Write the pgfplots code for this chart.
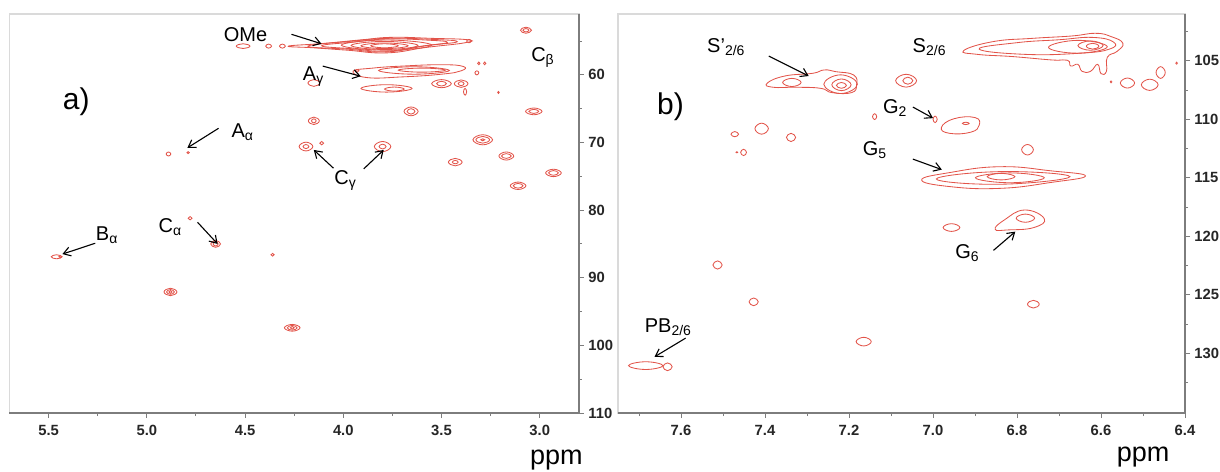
\documentclass[border=0pt]{standalone}
\usepackage{fontspec}
\setmainfont{Liberation Sans}
\usepackage{pgfplots}
\pgfplotsset{compat=1.18}
\usetikzlibrary{arrows.meta}
\definecolor{cont}{RGB}{226,84,74}
\definecolor{axdark}{RGB}{125,125,125}
\definecolor{axlight}{RGB}{218,218,218}
\pgfplotsset{
  nmr/.style={scale only axis, x dir=reverse, y dir=reverse, clip=false,
    axis line style={axlight, line width=0.6pt},
    tick style={axdark, line width=0.5pt}, tick align=outside,
    major tick length=2.5pt, minor tick length=1.5pt,
    xtick pos=bottom, ytick pos=right,
    ticklabel style={font=\bfseries\fontsize{7.4}{8.5}\selectfont, text=black!85},
    yticklabel style={inner xsep=2pt},
    /pgf/number format/assume math mode=true,
    xticklabel style={/pgf/number format/.cd, fixed, fixed zerofill, precision=1},
    yticklabel style={/pgf/number format/.cd, fixed, precision=0},
  },
  ct/.style={cont, line width=0.42pt, smooth cycle, tension=0.8, mark=none},
}
\tikzset{lbl/.style={font=\fontsize{10}{12}\selectfont, inner sep=0pt},
  arr/.style={-{Straight Barb[length=3.5pt,width=4.5pt]}, line width=0.55pt, black}}
\begin{document}
\begin{tikzpicture}
\path[use as bounding box] (0,0) rectangle (610pt,235.5pt);
% ---------------- panel a ----------------
\begin{axis}[nmr, at={(4.7pt,29pt)}, anchor=south west, width=284.8pt, height=199.5pt,
  xmin=2.80, xmax=5.70, ymin=51, ymax=110,
  xtick={3.0,3.5,4.0,4.5,5.0,5.5}, minor xtick={3.25,3.75,4.25,4.75,5.25},
  ytick={60,70,80,90,100,110}, minor ytick={55,65,75,85,95,105}]
\draw[axdark, line width=0.6pt] (axis cs:5.70,110) -- (axis cs:2.80,110) -- (axis cs:2.80,51);
% OMe
\addplot[ct] coordinates {(4.28,55.75) (4.10,55.35) (3.90,54.8) (3.75,54.45) (3.55,54.6) (3.37,54.8) (3.38,55.25) (3.58,55.95) (3.78,56.75) (3.98,56.35) (4.15,56.0)};
\addplot[ct] coordinates {(4.18,55.75) (3.95,55.0) (3.77,54.6) (3.55,54.75) (3.42,55.1) (3.58,55.7) (3.78,56.6) (3.98,56.2)};
\addplot[ct] coordinates {(4.11,55.7) (3.95,55.15) (3.78,54.7) (3.58,54.85) (3.47,55.2) (3.60,55.75) (3.78,56.5) (3.95,56.15)};
\addplot[ct] coordinates {(4.01,55.6) (3.78,54.85) (3.55,55.6) (3.78,56.35)};
\addplot[ct] coordinates {(3.96,55.65) (3.79,55.05) (3.62,55.65) (3.79,56.25)};
\addplot[ct] coordinates {(3.91,55.7) (3.79,55.28) (3.67,55.7) (3.79,56.12)};
\addplot[ct] coordinates {(3.86,55.7) (3.79,55.4) (3.72,55.7) (3.79,56.0)};
\addplot[ct] coordinates {(4.545,55.75) (4.51,55.4) (4.475,55.75) (4.51,56.1)};
\addplot[ct] coordinates {(4.395,55.75) (4.38,55.45) (4.365,55.75) (4.38,56.05)};
\addplot[ct] coordinates {(4.325,55.75) (4.31,55.45) (4.295,55.75) (4.31,56.05)};
\addplot[ct] coordinates {(3.372,55.0) (3.36,54.75) (3.348,55.0) (3.36,55.25)};
\addplot[ct] coordinates {(3.098,53.4) (3.07,52.95) (3.042,53.4) (3.07,53.85)};
\addplot[ct] coordinates {(3.085,53.4) (3.07,53.15) (3.055,53.4) (3.07,53.65)};
% A gamma
\addplot[ct] coordinates {(3.95,59.45) (3.85,59.0) (3.70,58.7) (3.50,58.5) (3.39,58.75) (3.40,59.4) (3.50,59.9) (3.70,60.3) (3.88,60.4)};
\addplot[ct] coordinates {(3.82,59.35) (3.64,58.8) (3.46,59.35) (3.64,59.9)};
\addplot[ct] coordinates {(3.72,59.3) (3.60,59.0) (3.48,59.3) (3.60,59.6)};
\addplot[ct] coordinates {(3.94,59.4) (3.93,59.2) (3.92,59.4) (3.93,59.6)};
\addplot[ct] coordinates {(4.18,61.2) (4.15,60.7) (4.12,61.2) (4.15,61.7)};
\addplot[ct] coordinates {(3.91,62.0) (3.78,61.45) (3.65,62.0) (3.78,62.55)};
\addplot[ct] coordinates {(3.79,62.1) (3.74,61.8) (3.69,62.1) (3.74,62.4)};
\addplot[ct] coordinates {(3.55,61.3) (3.50,60.7) (3.45,61.3) (3.50,61.9)};
\addplot[ct] coordinates {(3.435,61.3) (3.40,60.75) (3.365,61.3) (3.40,61.85)};
\addplot[ct] coordinates {(3.525,61.3) (3.50,60.95) (3.475,61.3) (3.50,61.65)};
\addplot[ct] coordinates {(3.415,61.3) (3.40,61.0) (3.385,61.3) (3.40,61.6)};
\addplot[ct] coordinates {(3.388,62.5) (3.38,62.0) (3.372,62.5) (3.38,63.0)};
\addplot[ct] coordinates {(3.316,58.3) (3.31,58.1) (3.304,58.3) (3.31,58.5)};
\addplot[ct] coordinates {(3.286,58.3) (3.28,58.1) (3.274,58.3) (3.28,58.5)};
\addplot[ct] coordinates {(3.33,59.7) (3.32,59.4) (3.31,59.7) (3.32,60.0)};
\addplot[ct] coordinates {(3.214,62.6) (3.21,62.45) (3.206,62.6) (3.21,62.75)};
% isolated peaks
\addplot[ct] coordinates {(3.691,65.4) (3.655,64.75) (3.619,65.4) (3.655,66.05)};
\addplot[ct] coordinates {(3.675,65.4) (3.655,65.0) (3.635,65.4) (3.655,65.8)};
\addplot[ct] coordinates {(4.178,66.8) (4.15,66.25) (4.122,66.8) (4.15,67.35)};
\addplot[ct] coordinates {(4.162,66.8) (4.15,66.5) (4.138,66.8) (4.15,67.1)};
\addplot[ct] coordinates {(3.072,65.4) (3.03,64.9) (2.988,65.4) (3.03,65.9)};
\addplot[ct] coordinates {(3.055,65.4) (3.03,65.1) (3.005,65.4) (3.03,65.7)};
\addplot[ct] coordinates {(3.34,69.6) (3.29,68.85) (3.24,69.6) (3.29,70.35)};
\addplot[ct] coordinates {(3.325,69.6) (3.29,69.1) (3.255,69.6) (3.29,70.1)};
\addplot[ct] coordinates {(3.30,69.6) (3.29,69.45) (3.28,69.6) (3.29,69.75)};
\addplot[ct] coordinates {(4.225,70.6) (4.19,69.95) (4.155,70.6) (4.19,71.25)};
\addplot[ct] coordinates {(4.205,70.6) (4.19,70.3) (4.175,70.6) (4.19,70.9)};
\addplot[ct] coordinates {(4.12,70.1) (4.11,69.85) (4.10,70.1) (4.11,70.35)};
\addplot[ct] coordinates {(3.842,70.6) (3.80,69.85) (3.758,70.6) (3.80,71.35)};
\addplot[ct] coordinates {(3.818,70.6) (3.80,70.25) (3.782,70.6) (3.80,70.95)};
\addplot[ct] coordinates {(3.208,72.0) (3.17,71.4) (3.132,72.0) (3.17,72.6)};
\addplot[ct] coordinates {(3.195,72.0) (3.17,71.65) (3.145,72.0) (3.17,72.35)};
\addplot[ct] coordinates {(3.465,72.9) (3.43,72.35) (3.395,72.9) (3.43,73.45)};
\addplot[ct] coordinates {(3.445,72.9) (3.43,72.65) (3.415,72.9) (3.43,73.15)};
\addplot[ct] coordinates {(2.97,74.5) (2.93,73.95) (2.89,74.5) (2.93,75.05)};
\addplot[ct] coordinates {(2.955,74.5) (2.93,74.15) (2.905,74.5) (2.93,74.85)};
\addplot[ct] coordinates {(3.15,76.4) (3.11,75.85) (3.07,76.4) (3.11,76.95)};
\addplot[ct] coordinates {(3.135,76.4) (3.11,76.05) (3.085,76.4) (3.11,76.75)};
\addplot[ct] coordinates {(4.902,71.7) (4.89,71.4) (4.878,71.7) (4.89,72.0)};
\addplot[ct] coordinates {(4.796,71.5) (4.79,71.35) (4.784,71.5) (4.79,71.65)};
\addplot[ct] coordinates {(4.79,81.2) (4.78,80.95) (4.77,81.2) (4.78,81.45)};
\addplot[ct] coordinates {(4.675,85.0) (4.65,84.5) (4.625,85.0) (4.65,85.5)};
\addplot[ct] coordinates {(4.663,85.0) (4.65,84.7) (4.637,85.0) (4.65,85.3)};
\addplot[ct] coordinates {(4.368,86.6) (4.36,86.4) (4.352,86.6) (4.36,86.8)};
\addplot[ct] coordinates {(5.487,86.9) (5.46,86.6) (5.433,86.9) (5.46,87.2)};
\addplot[ct] coordinates {(5.448,86.9) (5.44,86.75) (5.432,86.9) (5.44,87.05)};
\addplot[ct] coordinates {(4.913,92.1) (4.88,91.55) (4.847,92.1) (4.88,92.65)};
\addplot[ct] coordinates {(4.90,92.1) (4.88,91.75) (4.86,92.1) (4.88,92.45)};
\addplot[ct] coordinates {(4.888,92.1) (4.88,91.9) (4.872,92.1) (4.88,92.3)};
\addplot[ct] coordinates {(4.30,97.4) (4.26,96.9) (4.22,97.4) (4.26,97.9)};
\addplot[ct] coordinates {(4.285,97.4) (4.26,97.05) (4.235,97.4) (4.26,97.75)};
\addplot[ct] coordinates {(4.27,97.4) (4.26,97.2) (4.25,97.4) (4.26,97.6)};
% labels
\node[font=\fontsize{15}{17}\selectfont] at (axis cs:5.36,64.0) {a)};
\node[lbl] at (axis cs:4.498,54.1) {OMe};
\draw[arr] (axis cs:4.264,54.0) -- (axis cs:4.111,55.4);
\node[lbl] at (axis cs:4.151,60.3) {A\textsubscript{γ}};
\draw[arr] (axis cs:4.105,58.7) -- (axis cs:3.911,60.2);
\node[lbl] at (axis cs:4.512,68.5) {A\textsubscript{α}};
\draw[arr] (axis cs:4.635,67.9) -- (axis cs:4.794,70.8);
\node[lbl] at (axis cs:3.988,75.6) {C\textsubscript{γ}};
\draw[arr] (axis cs:4.05,73.8) -- (axis cs:4.15,71.1);
\draw[arr] (axis cs:3.896,73.9) -- (axis cs:3.794,71.1);
\node[lbl] at (axis cs:2.983,57.4) {C\textsubscript{β}};
\node[lbl] at (axis cs:4.88,82.5) {C\textsubscript{α}};
\draw[arr] (axis cs:4.742,81.8) -- (axis cs:4.64,85.0);
\node[lbl] at (axis cs:5.202,83.7) {B\textsubscript{α}};
\draw[arr] (axis cs:5.263,84.9) -- (axis cs:5.43,86.5);
\node[font=\fontsize{13.5}{15}\selectfont] at (axis cs:2.915,117.0) {ppm};
\end{axis}
% ---------------- panel b ----------------
\begin{axis}[nmr, at={(309pt,29pt)}, anchor=south west, width=283.5pt, height=199.5pt,
  xmin=6.40, xmax=7.75, ymin=101, ymax=135.1,
  xtick={6.4,6.6,6.8,7.0,7.2,7.4,7.6}, minor xtick={6.5,6.7,6.9,7.1,7.3,7.5,7.7},
  ytick={105,110,115,120,125,130}, minor ytick={102.5,107.5,112.5,117.5,122.5,127.5,132.5}]
\draw[axdark, line width=0.6pt] (axis cs:7.75,135.1) -- (axis cs:6.40,135.1) -- (axis cs:6.40,101);
% S2/6
\addplot[ct] coordinates {(6.927,104.13) (6.857,103.36) (6.763,103.08) (6.670,102.88) (6.613,102.65) (6.576,102.93) (6.548,103.50) (6.562,104.2) (6.585,104.7) (6.587,105.9) (6.600,106.1) (6.608,105.3) (6.625,105.9) (6.645,105.9) (6.655,105.3) (6.672,105.45) (6.680,104.95) (6.716,104.93) (6.810,104.64) (6.894,104.45)};
\addplot[ct] coordinates {(6.89,104.0) (6.80,103.45) (6.70,103.2) (6.62,103.0) (6.57,103.4) (6.58,104.0) (6.65,104.35) (6.78,104.45)};
\addplot[ct] coordinates {(6.725,103.85) (6.655,103.25) (6.585,103.8) (6.655,104.35)};
\addplot[ct] coordinates {(6.655,103.7) (6.625,103.3) (6.595,103.7) (6.625,104.1)};
\addplot[ct] coordinates {(6.635,103.75) (6.62,103.5) (6.605,103.75) (6.62,104.0)};
% S'2/6
\addplot[ct] coordinates {(7.395,106.92) (7.353,106.3) (7.287,106.07) (7.259,105.78) (7.231,105.93) (7.189,106.21) (7.182,107.07) (7.194,107.72) (7.240,107.72) (7.268,107.35) (7.325,107.26) (7.381,107.26)};
\addplot[ct] coordinates {(7.314,106.85) (7.336,106.5) (7.358,106.85) (7.336,107.2)};
\addplot[ct] coordinates {(7.18,107.0) (7.22,106.2) (7.26,107.0) (7.22,107.8)};
\addplot[ct] coordinates {(7.195,107.05) (7.218,106.55) (7.241,107.05) (7.218,107.55)};
\addplot[ct] coordinates {(7.206,107.1) (7.218,106.85) (7.230,107.1) (7.218,107.35)};
\addplot[ct] coordinates {(7.039,106.7) (7.064,106.15) (7.089,106.7) (7.064,107.25)};
\addplot[ct] coordinates {(7.048,106.7) (7.06,106.4) (7.072,106.7) (7.06,107.0)};
% G2
\addplot[ct] coordinates {(6.99,110.0) (6.995,109.72) (7.0,110.0) (6.995,110.28)};
\addplot[ct] coordinates {(6.98,110.7) (6.95,109.95) (6.90,109.85) (6.89,110.5) (6.91,111.1) (6.96,111.2)};
\addplot[ct] coordinates {(6.914,110.35) (6.922,110.25) (6.930,110.35) (6.922,110.45)};
\addplot[ct] coordinates {(7.134,109.77) (7.139,109.52) (7.144,109.77) (7.139,110.02)};
\addplot[ct] coordinates {(7.392,110.8) (7.408,110.33) (7.424,110.8) (7.408,111.27)};
\addplot[ct] coordinates {(7.463,111.27) (7.472,111.05) (7.481,111.27) (7.472,111.49)};
\addplot[ct] coordinates {(7.327,111.55) (7.338,111.2) (7.349,111.55) (7.338,111.9)};
\addplot[ct] coordinates {(7.444,112.83) (7.451,112.56) (7.458,112.83) (7.451,113.1)};
\addplot[ct] coordinates {(7.465,112.82) (7.467,112.77) (7.469,112.82) (7.467,112.87)};
\addplot[ct] coordinates {(6.761,112.6) (6.775,112.15) (6.789,112.6) (6.775,113.05)};
% G5
\addplot[ct] coordinates {(7.027,115.18) (6.96,114.55) (6.84,114.05) (6.72,114.4) (6.637,114.84) (6.72,115.4) (6.84,115.9) (6.96,115.75)};
\addplot[ct] coordinates {(6.992,115.1) (6.84,114.47) (6.674,114.9) (6.84,115.55)};
\addplot[ct] coordinates {(6.899,115.0) (6.817,114.58) (6.735,115.0) (6.817,115.42)};
\addplot[ct] coordinates {(6.871,114.9) (6.838,114.62) (6.805,114.9) (6.838,115.18)};
% G6
\addplot[ct] coordinates {(6.852,119.4) (6.83,118.6) (6.782,117.75) (6.735,118.5) (6.76,119.25) (6.82,119.45)};
\addplot[ct] coordinates {(6.758,118.45) (6.78,118.1) (6.802,118.45) (6.78,118.8)};
\addplot[ct] coordinates {(6.936,119.25) (6.956,118.92) (6.976,119.25) (6.956,119.58)};
\addplot[ct] coordinates {(7.502,122.45) (7.513,122.1) (7.524,122.45) (7.513,122.8)};
\addplot[ct] coordinates {(7.416,125.6) (7.427,125.27) (7.438,125.6) (7.427,125.93)};
\addplot[ct] coordinates {(6.747,125.8) (6.761,125.47) (6.775,125.8) (6.761,126.13)};
\addplot[ct] coordinates {(7.147,129.0) (7.165,128.63) (7.183,129.0) (7.165,129.37)};
% PB2/6
\addplot[ct] coordinates {(7.643,131.05) (7.684,130.72) (7.725,131.05) (7.684,131.38)};
\addplot[ct] coordinates {(7.621,131.15) (7.632,130.82) (7.643,131.15) (7.632,131.48)};
\addplot[ct] coordinates {(6.52,106.9) (6.537,106.47) (6.554,106.9) (6.537,107.33)};
\addplot[ct] coordinates {(6.464,107.05) (6.484,106.57) (6.504,107.05) (6.484,107.53)};
\addplot[ct] coordinates {(6.447,106.0) (6.458,105.5) (6.469,106.0) (6.458,106.5)};
\addplot[ct] coordinates {(6.418,105.2) (6.42,105.12) (6.422,105.2) (6.42,105.28)};
\addplot[ct] coordinates {(6.574,106.8) (6.576,106.72) (6.578,106.8) (6.576,106.88)};
% labels
\node[font=\fontsize{15}{17}\selectfont] at (axis cs:7.625,108.95) {b)};
\node[lbl] at (axis cs:7.492,103.8) {S’\textsubscript{2/6}};
\draw[arr] (axis cs:7.391,104.6) -- (axis cs:7.296,106.3);
\node[lbl] at (axis cs:7.008,103.8) {S\textsubscript{2/6}};
\node[lbl] at (axis cs:7.090,109.0) {G\textsubscript{2}};
\draw[arr] (axis cs:7.048,108.95) -- (axis cs:7.0,109.9);
\node[lbl] at (axis cs:7.138,112.6) {G\textsubscript{5}};
\draw[arr] (axis cs:7.048,113.4) -- (axis cs:6.979,114.3);
\node[lbl] at (axis cs:6.918,121.4) {G\textsubscript{6}};
\draw[arr] (axis cs:6.856,121.2) -- (axis cs:6.804,119.6);
\node[lbl] at (axis cs:7.63,127.75) {PB\textsubscript{2/6}};
\draw[arr] (axis cs:7.589,128.7) -- (axis cs:7.663,130.3);
\node[font=\fontsize{13.5}{15}\selectfont] at (axis cs:6.50,138.85) {ppm};
\end{axis}
\end{tikzpicture}
\end{document}
